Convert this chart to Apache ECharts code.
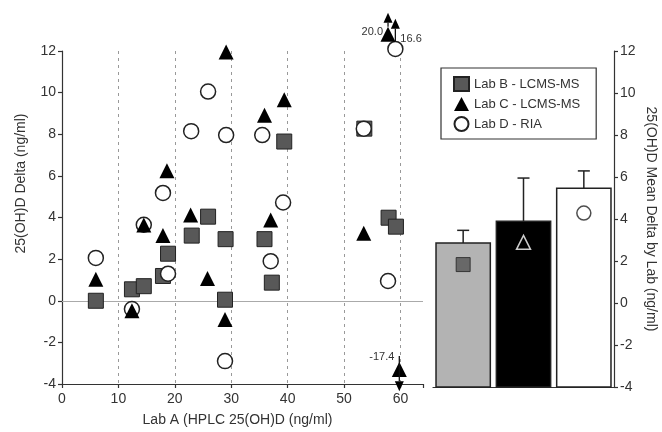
<!DOCTYPE html>
<html lang="en">
<head>
    <meta charset="UTF-8">
    <title>25(OH)D Delta by Lab</title>
    <script src="https://cdn.jsdelivr.net/npm/echarts@6/dist/echarts.min.js"></script>
    <style>
        html, body { margin: 0; padding: 0; background: #fff; }
        #main { width: 662px; height: 432px; }
    </style>
</head>
<body>
    <div id="main"></div>

    <script>
        // Lab A reference value (x) and delta vs Lab A (y) for each lab
        var labB_x = [6.0, 12.4, 14.5, 17.9, 18.8, 23.0, 25.9, 29.0, 28.9, 35.9, 37.2, 39.4, 53.6, 57.9, 59.2];
        var labB_y = [0.0, 0.55, 0.7, 1.19, 2.26, 3.13, 4.04, 2.96, 0.05, 2.96, 0.87, 7.65, 8.27, 3.99, 3.56];

        var labC_x = [6.0, 12.4, 14.5, 17.9, 18.6, 22.8, 25.8, 29.1, 28.9, 35.9, 37.0, 39.4, 53.5, 57.8, 59.8];
        var labC_y = [1.03, -0.48, 3.64, 3.13, 6.25, 4.12, 1.07, 11.95, -0.9, 8.91, 3.88, 9.66, 3.24, 20.0, -17.4];

        var labD_x = [6.0, 12.4, 14.5, 17.9, 18.8, 22.9, 25.9, 29.1, 28.9, 35.5, 37.0, 39.2, 53.5, 57.8, 59.1];
        var labD_y = [2.06, -0.4, 3.65, 5.18, 1.3, 8.15, 10.05, 7.96, -2.9, 7.96, 1.9, 4.72, 8.27, 0.95, 16.6];

        // off-scale points: true value, where it is drawn, arrow extent
        var offValue = [20.0, 16.6, -17.4];
        var offX = [57.8, 59.1, 59.8];
        var offShownAt = [12.8, 12.1, -3.3];
        var offArrowFrom = [13.17, 12.46, -2.65];
        var offArrowTo = [13.84, 13.55, -4.35];
        var offLabelY = [12.93, 12.56, -2.7];
        var offLabelSide = ['left', 'right', 'left'];

        // mean delta by lab (bars), upper error, marker inside bar
        var labNames = ['Lab B - LCMS-MS', 'Lab C - LCMS-MS', 'Lab D - RIA'];
        var meanDelta = [2.86, 3.89, 5.47];
        var meanErrTop = [3.46, 5.95, 6.29];
        var innerMarker = [1.83, 2.89, 4.28];

        var yTicks = { min: -4, max: 12, interval: 2 };
        var xTicks = { min: 0, max: 64, interval: 10 };

        var fontFamily = '"Liberation Sans", Arial, Helvetica, sans-serif';
        var textColor = '#333';

        function shown(x, y) {
            var pts = [];
            for (var i = 0; i < x.length; i++) {
                var v = y[i];
                var k = offValue.indexOf(v);
                if (k >= 0 && offX[k] === x[i]) v = offShownAt[k];
                pts.push([x[i], v]);
            }
            return pts;
        }

        var arrowData = [];
        for (var k = 0; k < offValue.length; k++) {
            arrowData.push([offX[k], offArrowFrom[k], offArrowTo[k], offLabelY[k], k]);
        }

        var barData = [];
        var errData = [];
        var innerData = [];
        var innerSymbols = ['rect', 'triangle', 'circle'];
        var innerStyles = [
            { color: '#555', borderColor: '#222', borderWidth: 1 },
            { color: 'rgba(0,0,0,0)', borderColor: '#fff', borderWidth: 1.5 },
            { color: '#fff', borderColor: '#222', borderWidth: 1.5 }
        ];
        var barColors = ['#b3b3b3', '#000', '#fff'];
        for (var i = 0; i < meanDelta.length; i++) {
            barData.push([i, meanDelta[i]]);
            errData.push([i, meanDelta[i], meanErrTop[i]]);
            innerData.push({ value: [i, innerMarker[i]], symbol: innerSymbols[i], itemStyle: innerStyles[i] });
        }

        var axisLineStyle = { color: '#333', width: 1.2 };
        var labelStyle = { color: textColor, fontSize: 14, fontFamily: fontFamily };

        var myChart = echarts.init(document.getElementById('main'));

        var option = {
            animation: false,
            textStyle: { fontFamily: fontFamily },
            grid: [
                { left: 62, right: 239, top: 51, bottom: 45 },
                { left: 433, right: 48, top: 51, bottom: 45 }
            ],
            legend: {
                data: labNames,
                orient: 'vertical',
                left: 441,
                top: 68,
                padding: [8, 16, 7, 12],
                itemGap: 5,
                itemWidth: 15,
                itemHeight: 14,
                borderColor: '#333',
                borderWidth: 1.2,
                textStyle: { color: textColor, fontSize: 13, fontFamily: fontFamily }
            },
            xAxis: [
                {
                    gridIndex: 0,
                    type: 'value',
                    min: xTicks.min,
                    max: xTicks.max,
                    interval: xTicks.interval,
                    name: 'Lab A (HPLC 25(OH)D (ng/ml)',
                    nameLocation: 'middle',
                    nameGap: 29,
                    nameTextStyle: { color: textColor, fontSize: 14, padding: [0, 10, 0, 0] },
                    axisLine: { onZero: false, lineStyle: axisLineStyle },
                    axisTick: { length: 4, lineStyle: axisLineStyle },
                    axisLabel: Object.assign({
                        margin: 8,
                        formatter: function (v) { return v % 10 === 0 ? v : ''; }
                    }, labelStyle),
                    splitLine: {
                        show: true,
                        showMinLine: false,
                        showMaxLine: false,
                        lineStyle: { color: '#999', type: [3, 4], width: 1 }
                    }
                },
                {
                    gridIndex: 1,
                    type: 'category',
                    data: labNames,
                    axisLine: { onZero: false, lineStyle: axisLineStyle },
                    axisTick: { show: false },
                    axisLabel: { show: false }
                }
            ],
            yAxis: [
                {
                    gridIndex: 0,
                    type: 'value',
                    min: yTicks.min,
                    max: yTicks.max,
                    interval: yTicks.interval,
                    name: '25(OH)D Delta (ng/ml)',
                    nameLocation: 'middle',
                    nameGap: 34,
                    nameTextStyle: { color: textColor, fontSize: 14, padding: [0, 0, 0, 68] },
                    axisLine: { show: true, onZero: false, lineStyle: axisLineStyle },
                    axisTick: { show: true, length: 4, lineStyle: axisLineStyle },
                    axisLabel: Object.assign({ margin: 6 }, labelStyle),
                    splitLine: { show: false }
                },
                {
                    gridIndex: 1,
                    type: 'value',
                    position: 'right',
                    min: yTicks.min,
                    max: yTicks.max,
                    interval: yTicks.interval,
                    name: '25(OH)D Mean Delta by Lab (ng/ml)',
                    nameLocation: 'middle',
                    nameRotate: -90,
                    nameGap: 30,
                    nameTextStyle: { color: textColor, fontSize: 14 },
                    axisLine: { show: true, onZero: false, lineStyle: axisLineStyle },
                    axisTick: { show: true, length: 4, lineStyle: axisLineStyle },
                    axisLabel: Object.assign({ margin: 6 }, labelStyle),
                    splitLine: { show: false }
                }
            ],
            series: [
                {
                    name: 'Lab B - LCMS-MS',
                    type: 'scatter',
                    xAxisIndex: 0, yAxisIndex: 0,
                    clip: false,
                    symbol: 'rect',
                    symbolSize: 15,
                    z: 3,
                    itemStyle: { color: '#585858', borderColor: '#222', borderWidth: 1, opacity: 1 },
                    data: shown(labB_x, labB_y),
                    markLine: {
                        silent: true,
                        symbol: 'none',
                        label: { show: false },
                        lineStyle: { color: '#aaa', type: 'solid', width: 1.2 },
                        data: [{ yAxis: 0 }],
                        z: 1
                    }
                },
                {
                    name: 'Lab D - RIA',
                    type: 'scatter',
                    xAxisIndex: 0, yAxisIndex: 0,
                    clip: false,
                    symbol: 'circle',
                    symbolSize: 15,
                    z: 4,
                    itemStyle: { color: '#fff', borderColor: '#222', borderWidth: 1.5, opacity: 1 },
                    data: shown(labD_x, labD_y)
                },
                {
                    name: 'Lab C - LCMS-MS',
                    type: 'scatter',
                    xAxisIndex: 0, yAxisIndex: 0,
                    clip: false,
                    symbol: 'triangle',
                    symbolSize: 15,
                    z: 5,
                    itemStyle: { color: '#000', opacity: 1 },
                    data: shown(labC_x, labC_y)
                },
                {
                    // arrows and labels for off-scale values
                    type: 'custom',
                    xAxisIndex: 0, yAxisIndex: 0,
                    clip: false,
                    silent: true,
                    z: 6,
                    data: arrowData,
                    encode: { x: 0, y: [1, 2] },
                    renderItem: function (params, api) {
                        var k = api.value(4);
                        var p0 = api.coord([api.value(0), api.value(1)]);
                        var p1 = api.coord([api.value(0), api.value(2)]);
                        var dir = p1[1] < p0[1] ? 1 : -1; // 1 = arrow points up
                        var headLen = 10, headHalf = 4.5;
                        var base = p1[1] + dir * headLen;
                        var lp = api.coord([api.value(0), api.value(3)]);
                        var side = offLabelSide[k];
                        return {
                            type: 'group',
                            children: [
                                {
                                    type: 'line',
                                    shape: { x1: p0[0], y1: p0[1], x2: p1[0], y2: base },
                                    style: { stroke: '#111', lineWidth: 1.3 }
                                },
                                {
                                    type: 'polygon',
                                    shape: { points: [[p1[0], p1[1]], [p1[0] - headHalf, base], [p1[0] + headHalf, base]] },
                                    style: { fill: '#000' }
                                },
                                {
                                    type: 'text',
                                    x: side === 'left' ? lp[0] - 5 : lp[0] + 5,
                                    y: lp[1],
                                    style: {
                                        text: offValue[k].toFixed(1),
                                        fill: textColor,
                                        fontSize: 11,
                                        fontFamily: fontFamily,
                                        align: side === 'left' ? 'right' : 'left',
                                        verticalAlign: 'middle'
                                    }
                                }
                            ]
                        };
                    }
                },
                {
                    // mean delta bars, drawn up from the axis floor
                    type: 'custom',
                    xAxisIndex: 1, yAxisIndex: 1,
                    data: barData,
                    encode: { x: 0, y: 1 },
                    z: 2,
                    renderItem: function (params, api) {
                        var i = api.value(0);
                        var top = api.coord([i, api.value(1)]);
                        var bottom = api.coord([i, yTicks.min]);
                        var w = api.size([1, 0])[0] * 0.9;
                        return {
                            type: 'rect',
                            shape: { x: top[0] - w / 2, y: top[1], width: w, height: bottom[1] - top[1] },
                            style: { fill: barColors[i], stroke: '#222', lineWidth: 1.5 }
                        };
                    }
                },
                {
                    // upper error bars
                    type: 'custom',
                    xAxisIndex: 1, yAxisIndex: 1,
                    data: errData,
                    encode: { x: 0, y: [1, 2] },
                    z: 3,
                    renderItem: function (params, api) {
                        var i = api.value(0);
                        var p0 = api.coord([i, api.value(1)]);
                        var p1 = api.coord([i, api.value(2)]);
                        var cap = 6;
                        return {
                            type: 'group',
                            children: [
                                { type: 'line', shape: { x1: p0[0], y1: p0[1], x2: p1[0], y2: p1[1] }, style: { stroke: '#222', lineWidth: 1.5 } },
                                { type: 'line', shape: { x1: p1[0] - cap, y1: p1[1], x2: p1[0] + cap, y2: p1[1] }, style: { stroke: '#222', lineWidth: 1.5 } }
                            ]
                        };
                    }
                },
                {
                    name: 'inner',
                    type: 'scatter',
                    xAxisIndex: 1, yAxisIndex: 1,
                    symbolSize: 14,
                    z: 4,
                    data: innerData
                }
            ]
        };

        myChart.setOption(option);
    </script>
</body>
</html>
